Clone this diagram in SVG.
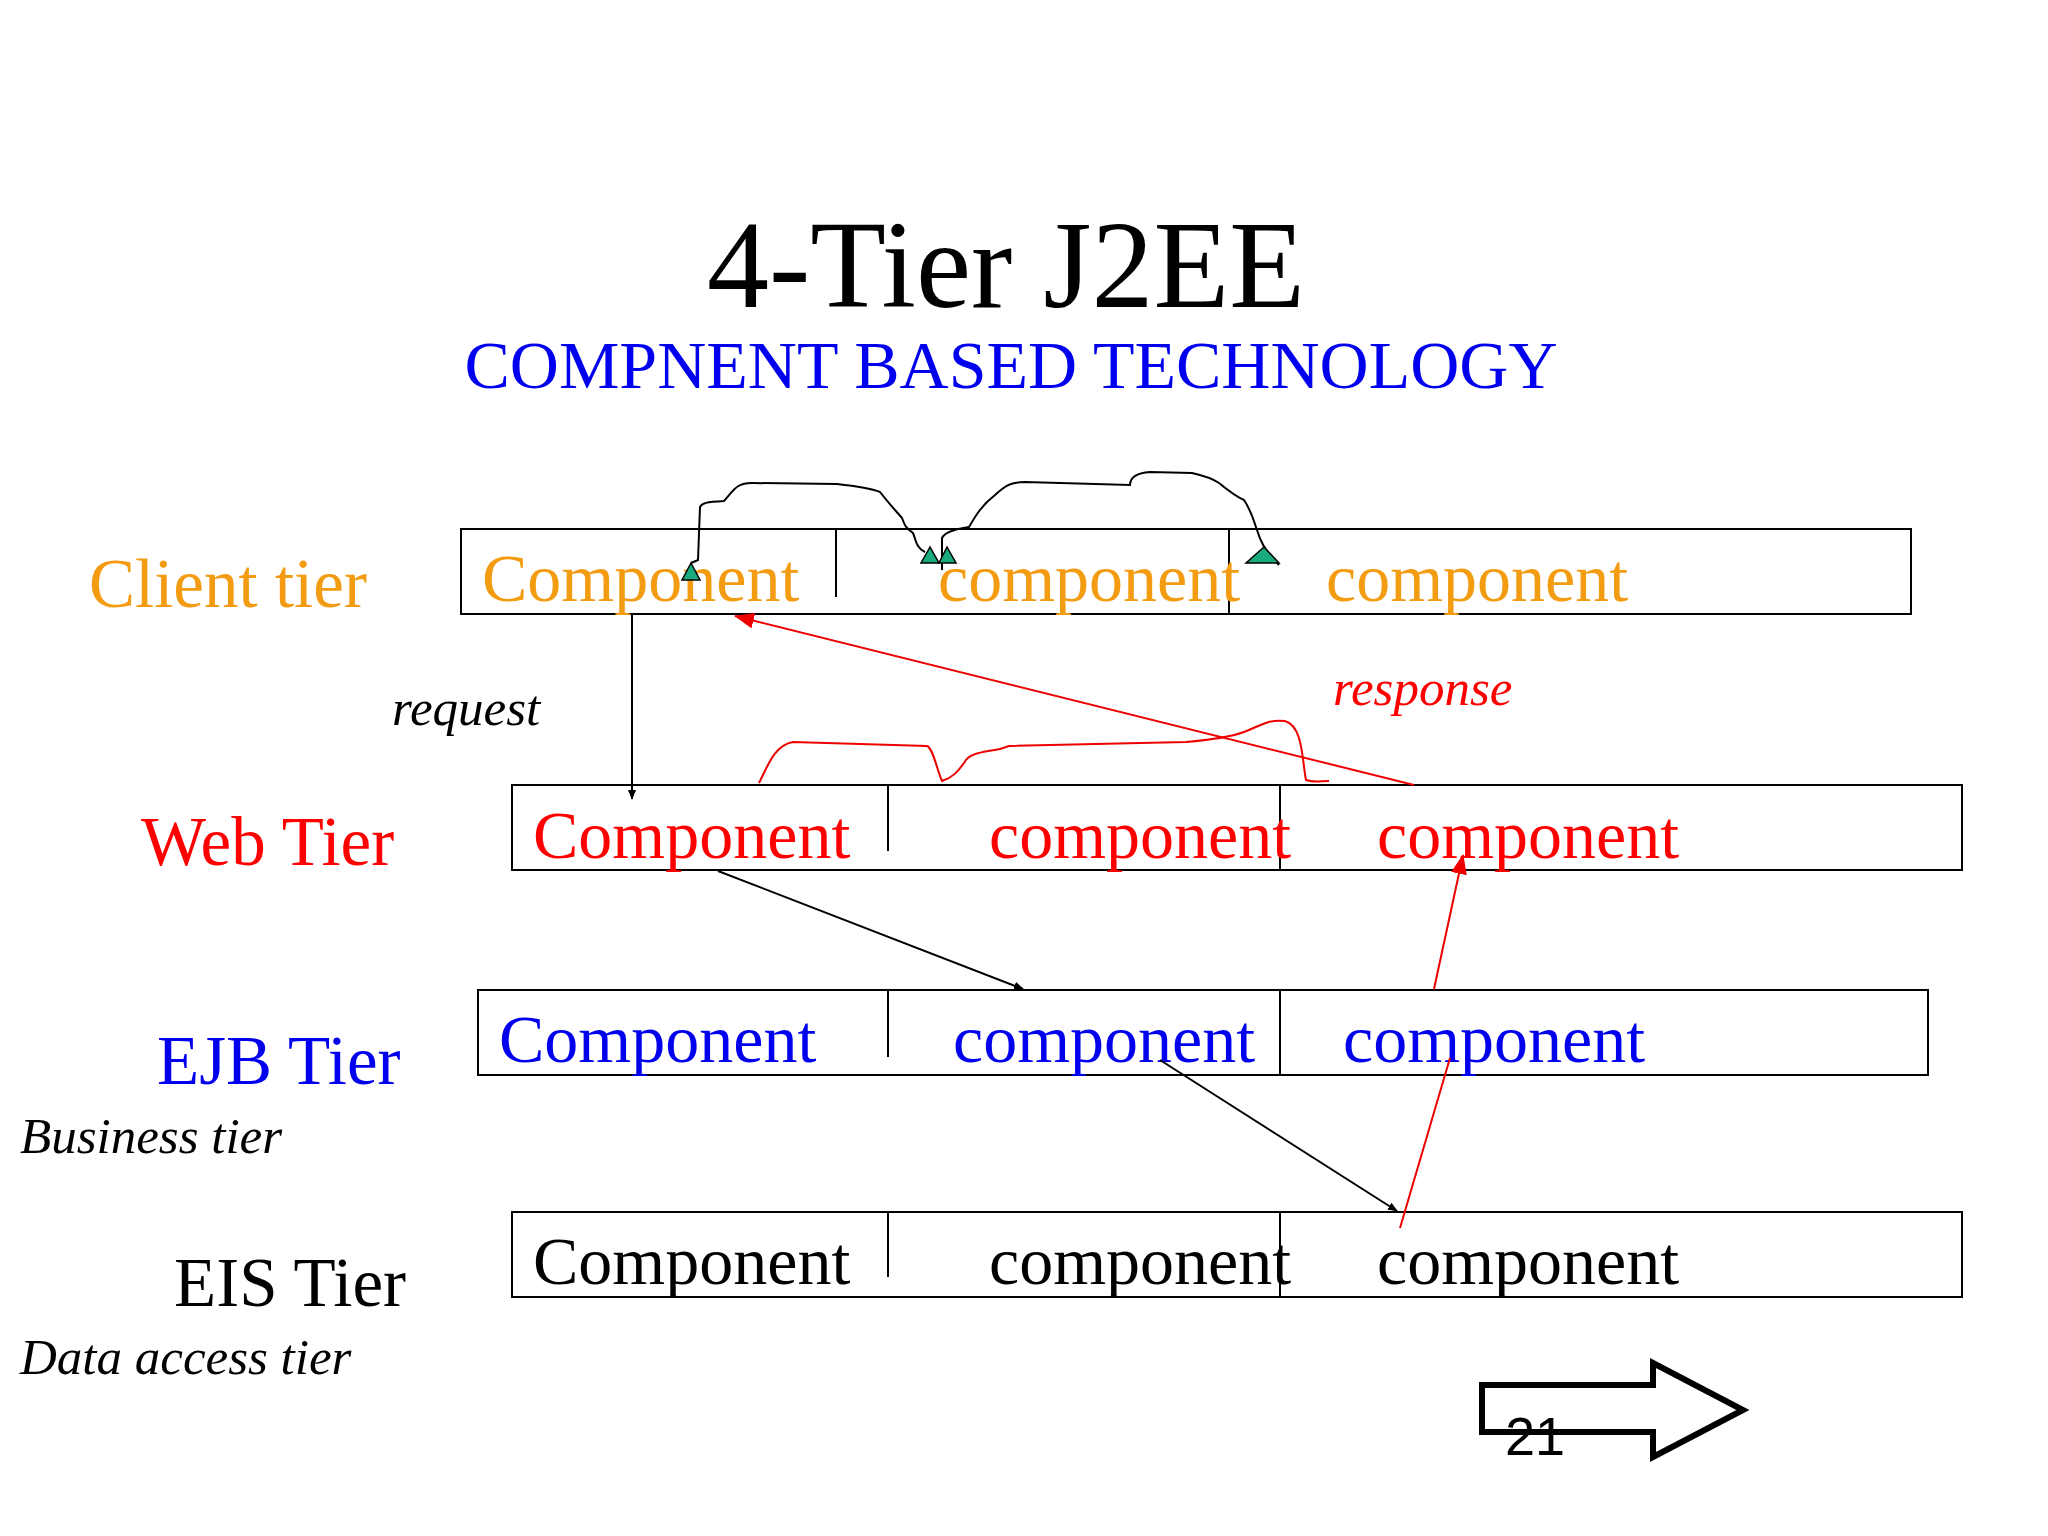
<svg xmlns="http://www.w3.org/2000/svg" width="2048" height="1536" viewBox="0 0 2048 1536">
<style>
text{font-family:"Liberation Serif","Times New Roman",serif}
.box{fill:none;stroke:#000;stroke-width:2}
.c{font-size:68px}
.t{font-size:69px}
.o{fill:#f39c12}.r{fill:#f00}.b{fill:#0000ee}.k{fill:#000}
.it{font-style:italic;font-size:51px}
.blk{fill:none;stroke:#000;stroke-width:2}
.red{fill:none;stroke:#e00;stroke-width:2}
.tri{fill:#1aaa80;stroke:#000;stroke-width:1.5}
</style>
<defs>
<marker id="ak" markerWidth="10" markerHeight="10" refX="9" refY="5" orient="auto" markerUnits="userSpaceOnUse" viewBox="0 0 10 10"><path d="M0,1 L10,5 L0,9z" fill="#000"/></marker>
<marker id="ar" markerWidth="20" markerHeight="16" refX="19" refY="8" orient="auto" markerUnits="userSpaceOnUse" viewBox="0 0 20 16"><path d="M0,0 L20,8 L0,16z" fill="#e00"/></marker>
</defs>
<rect width="2048" height="1536" fill="#fff"/>
<text x="1006" y="307" text-anchor="middle" font-size="124">4-Tier J2EE</text>
<text x="1011" y="388" text-anchor="middle" font-size="68" class="b">COMPNENT BASED TECHNOLOGY</text>

<g id="client">
<rect class="box" x="461" y="529" width="1450" height="85"/>
<line class="box" x1="836" y1="529" x2="836" y2="597"/><line class="box" x1="1229" y1="529" x2="1229" y2="614"/>
<text class="c o" x="482" y="601">Component</text><text class="c o" x="938" y="601">component</text><text class="c o" x="1326" y="601">component</text>
<text class="t o" x="89" y="607">Client tier</text>
</g>
<g id="web">
<rect class="box" x="512" y="785" width="1450" height="85"/>
<line class="box" x1="888" y1="785" x2="888" y2="851"/><line class="box" x1="1280" y1="785" x2="1280" y2="870"/>
<text class="c r" x="533" y="858">Component</text><text class="c r" x="989" y="858">component</text><text class="c r" x="1377" y="858">component</text>
<text class="t r" x="141" y="865">Web Tier</text>
</g>
<g id="ejb">
<rect class="box" x="478" y="990" width="1450" height="85"/>
<line class="box" x1="888" y1="990" x2="888" y2="1057"/><line class="box" x1="1280" y1="990" x2="1280" y2="1075"/>
<text class="c b" x="499" y="1062">Component</text><text class="c b" x="953" y="1062">component</text><text class="c b" x="1343" y="1062">component</text>
<text class="t b" x="157" y="1084">EJB Tier</text>
<text class="it" x="20" y="1153">Business tier</text>
</g>
<g id="eis">
<rect class="box" x="512" y="1212" width="1450" height="85"/>
<line class="box" x1="888" y1="1212" x2="888" y2="1277"/><line class="box" x1="1280" y1="1212" x2="1280" y2="1297"/>
<text class="c k" x="533" y="1284">Component</text><text class="c k" x="989" y="1284">component</text><text class="c k" x="1377" y="1284">component</text>
<text class="t k" x="174" y="1306">EIS Tier</text>
<text class="it" x="20" y="1374">Data access tier</text>
</g>

<g id="connectors">
<line class="blk" x1="632" y1="614" x2="632" y2="799" marker-end="url(#ak)"/>
<line class="blk" x1="718" y1="871" x2="1023" y2="989" marker-end="url(#ak)"/>
<line class="blk" x1="1160" y1="1060" x2="1397" y2="1211" marker-end="url(#ak)"/>
<line class="red" x1="1400" y1="1228" x2="1450" y2="1058"/>
<line class="red" x1="1434" y1="989" x2="1463" y2="855" marker-end="url(#ar)"/>
<line class="red" x1="1414" y1="785" x2="735" y2="616" marker-end="url(#ar)"/>
<path class="red" d="M759,783 C768,765 775,745 793,742 L927,746 C933,748 937,770 942,781 C952,778 958,772 966,760 C972,752 990,751 1000,749 L1009,746 L1186,742 C1210,740 1230,737 1244,732 C1260,726 1268,719 1285,721 C1303,726 1302,760 1306,780 C1314,783 1320,781 1329,781"/>
<path class="blk" d="M691,563 L698,560 L700,507 C702,503 706,502 724,501 C734,490 736,483 752,483 L837,484 C855,486 870,488 880,492 C890,505 897,512 902,518 C905,526 906,528 913,533 C916,540 916,548 925,552"/>
<path class="blk" d="M942,570 L942,538 C945,532 955,529 969,527 C976,515 982,505 995,495 C1005,486 1010,482 1025,482 L1130,485 C1130,478 1136,473 1150,472 L1192,473 C1205,476 1212,478 1219,483 C1230,492 1237,497 1244,500 C1252,512 1254,522 1257,530 C1260,540 1264,550 1279,565"/>
<polygon class="tri" points="691,563 682,580 700,580"/>
<polygon class="tri" points="930,547 921,563 939,563"/>
<polygon class="tri" points="947,547 939,563 956,563"/>
<polygon class="tri" points="1264,547 1246,563 1279,563"/>
</g>
<text class="it" x="392" y="725">request</text>
<text class="it r" x="1333" y="705">response</text>
<path d="M1482,1385 L1653,1385 L1653,1363 L1743,1410 L1653,1457 L1653,1432 L1482,1432 Z" fill="none" stroke="#000" stroke-width="6"/>
<text x="1505" y="1455" font-size="54" style="font-family:'Liberation Sans',Arial,sans-serif">21</text>
</svg>
